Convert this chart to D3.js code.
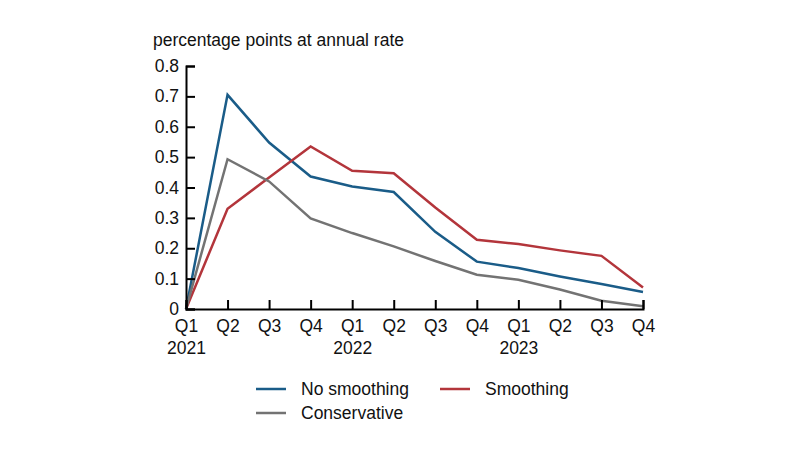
<!DOCTYPE html>
<html>
<head>
<meta charset="utf-8">
<script src="https://cdn.jsdelivr.net/npm/d3@7"></script>
<style>
  body { margin: 0; background: #fff; }
  svg text { font-family: "Liberation Sans", Arial, Helvetica, sans-serif; fill: #111; }
</style>
</head>
<body>
<div id="chart"></div>
<script>
// quarters, 2021 Q1 through 2023 Q4
var quarters = ['Q1', 'Q2', 'Q3', 'Q4', 'Q1', 'Q2', 'Q3', 'Q4', 'Q1', 'Q2', 'Q3', 'Q4'];
var years    = ['2021', '', '', '', '2022', '', '', '', '2023', '', '', ''];

var no_smoothing = [0, 0.705, 0.548, 0.436, 0.403, 0.385, 0.254, 0.156, 0.135, 0.107, 0.082, 0.056];
var smoothing    = [0, 0.330, 0.433, 0.535, 0.455, 0.447, 0.334, 0.228, 0.214, 0.193, 0.175, 0.071];
var conservative = [0, 0.493, 0.420, 0.298, 0.250, 0.206, 0.158, 0.113, 0.096, 0.064, 0.027, 0.009];

var y_ticks = [0, 0.1, 0.2, 0.3, 0.4, 0.5, 0.6, 0.7, 0.8];

var series = [
	{ name: 'No smoothing', values: no_smoothing, color: '#1a5c88' },
	{ name: 'Smoothing',    values: smoothing,    color: '#b3353b' },
	{ name: 'Conservative', values: conservative, color: '#737373' }
];

var width  = 800;
var height = 452;
var font_size = '17.5px';

var x_scale = d3.scaleLinear()
				.domain([0, quarters.length - 1])
				.range([186, 643]);
var y_scale = d3.scaleLinear()
				.domain([0, 0.8])
				.range([309, 66]);

var svg = d3.select('#chart')
			.append('svg')
			.attr('width', width)
			.attr('height', height);

// unit label
svg.append('text')
   .attr('x', 153)
   .attr('y', 46)
   .style('font-size', font_size)
   .text('percentage points at annual rate');

// lines
var line = d3.line()
			 .x(function(d, i) { return x_scale(i); })
			 .y(function(d) { return y_scale(d); });

svg.selectAll('.series')
   .data(series)
   .enter()
   .append('path')
   .attr('class', 'series')
   .attr('fill', 'none')
   .attr('stroke', function(d) { return d.color; })
   .attr('stroke-width', 2.5)
   .attr('stroke-linejoin', 'miter')
   .attr('d', function(d) { return line(d.values); });

// y-axis, ticks pointing inward
var y_axis = d3.axisRight(y_scale)
			   .tickValues(y_ticks)
			   .tickSize(9)
			   .tickFormat(function(d) { return d === 0 ? '0' : d3.format('.1f')(d); });

var gy = svg.append('g')
			.attr('transform', 'translate(' + x_scale(0) + ',0)')
			.call(y_axis);
gy.select('.domain').attr('stroke', '#000').attr('stroke-width', 2);
gy.selectAll('.tick line').attr('stroke', '#000').attr('stroke-width', 2);
gy.selectAll('.tick text')
  .attr('x', -7)
  .attr('text-anchor', 'end')
  .style('font-size', font_size)
  .style('font-family', '"Liberation Sans", Arial, sans-serif');

// x-axis, ticks pointing inward
var x_axis = d3.axisTop(x_scale)
			   .tickValues(d3.range(quarters.length))
			   .tickSize(9)
			   .tickFormat(function(i) { return quarters[i]; });

var gx = svg.append('g')
			.attr('transform', 'translate(0,' + y_scale(0) + ')')
			.call(x_axis);
gx.select('.domain').attr('stroke', '#000').attr('stroke-width', 2);
gx.selectAll('.tick line').attr('stroke', '#000').attr('stroke-width', 2);
gx.selectAll('.tick text')
  .attr('y', 23)
  .attr('dy', 0)
  .style('font-size', font_size)
  .style('font-family', '"Liberation Sans", Arial, sans-serif');

gx.selectAll('.tick')
  .append('text')
  .attr('y', 45)
  .attr('fill', '#111')
  .attr('text-anchor', 'middle')
  .style('font-size', font_size)
  .style('font-family', '"Liberation Sans", Arial, sans-serif')
  .text(function(i) { return years[i]; });

// legend
var legend_pos = [[256, 389], [440, 389], [256, 413]];
var legend = svg.selectAll('.legend')
				.data(series)
				.enter()
				.append('g')
				.attr('class', 'legend')
				.attr('transform', function(d, i) { return 'translate(' + legend_pos[i][0] + ',' + legend_pos[i][1] + ')'; });
legend.append('line')
	  .attr('x1', 0).attr('x2', 30)
	  .attr('stroke', function(d) { return d.color; })
	  .attr('stroke-width', 2.5);
legend.append('text')
	  .attr('x', 45)
	  .attr('y', 6)
	  .style('font-size', font_size)
	  .text(function(d) { return d.name; });
</script>
</body>
</html>
